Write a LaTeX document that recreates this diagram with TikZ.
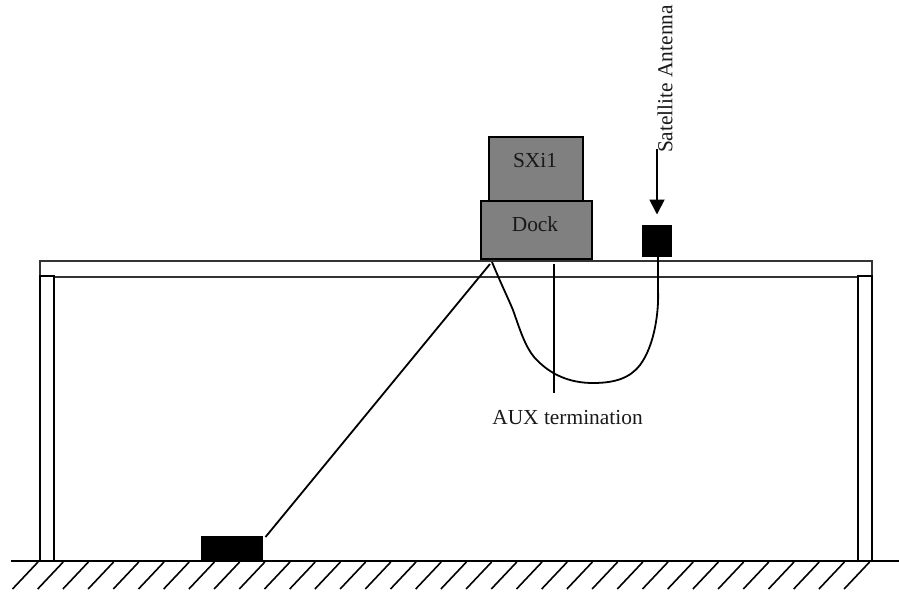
\documentclass[tikz,border=0pt]{standalone}
\usepackage{fontspec}
\setmainfont{Liberation Serif}
\usetikzlibrary{arrows.meta}
\tikzset{
  box/.style={draw=black,line width=2pt,fill=black!50,inner sep=0pt,minimum width=0pt},
  solidbox/.style={fill=black,draw=none,inner sep=0pt},
  topline/.style={draw=black!80,line width=2pt},
  legline/.style={draw=black,line width=2pt},
  wire/.style={draw=black,line width=1.8pt},
  label/.style={font=\fontsize{21.4pt}{24pt}\selectfont,inner sep=0pt,text=black!90}
}
\begin{document}
\begin{tikzpicture}[x=1pt,y=-1pt]
\useasboundingbox (0,0) rectangle (899,592);
% table
\draw[topline] (40,261) rectangle (871.5,277);
\draw[legline,fill=white] (40,276) rectangle (54,561);
\draw[legline,fill=white] (858,276) rectangle (872,561);
% ground
\coordinate (gl) at (11,561);
\coordinate (gr) at (899,561);
\draw[line width=2pt] (gl) -- (gr);
\foreach \i in {0,...,33}{
  \draw[line width=1.6pt] ({38+25.2*\i},562) -- ({12.5+25.2*\i},589);
}
% equipment
\node[box,minimum width=94pt,minimum height=64pt,anchor=north west] (sxi) at (488,136) {};
\node[box,minimum width=111pt,minimum height=58pt,anchor=north west] (dock) at (480,200) {};
\node[label] at (535,161) {SXi1};
\node[label] at (535,224.5) {Dock};
\node[solidbox,minimum width=30pt,minimum height=32pt,anchor=north west] (ant) at (642,225) {};
\node[solidbox,minimum width=62pt,minimum height=26pt,anchor=north west] (bar) at (201,536) {};
% labels
\node[label,rotate=90] (satlabel) at (665,79) {Satellite Antenna};
\node[label] (auxlabel) at (567.5,417.5) {AUX termination};
% connectors
\coordinate (arrowstart) at (657,149);
\coordinate (arrowend) at (657,214.5);
\draw[wire,-{Triangle[length=15pt,width=15pt]}] (arrowstart) -- (arrowend);
\coordinate (wa) at (265.5,537);
\coordinate (wb) at (490,264);
\draw[wire] (wa) -- (wb);
\coordinate (ta) at (554,264);
\coordinate (tb) at (554,393);
\draw[wire,line width=2pt] (ta) -- (tb);
\coordinate (ca) at (492,262);
\coordinate (cb) at (658,257);
\draw[wire] (ca) .. controls (502,286) and (508,298) .. (513,310)
  .. controls (520,330) and (525,346) .. (534,357)
  .. controls (550,375) and (570,383) .. (593,383)
  .. controls (615,383) and (630,378) .. (640,365)
  .. controls (655,345) and (659,310) .. (658,290)
  .. controls (658,275) and (658,265) .. (cb);
\end{tikzpicture}
\end{document}
